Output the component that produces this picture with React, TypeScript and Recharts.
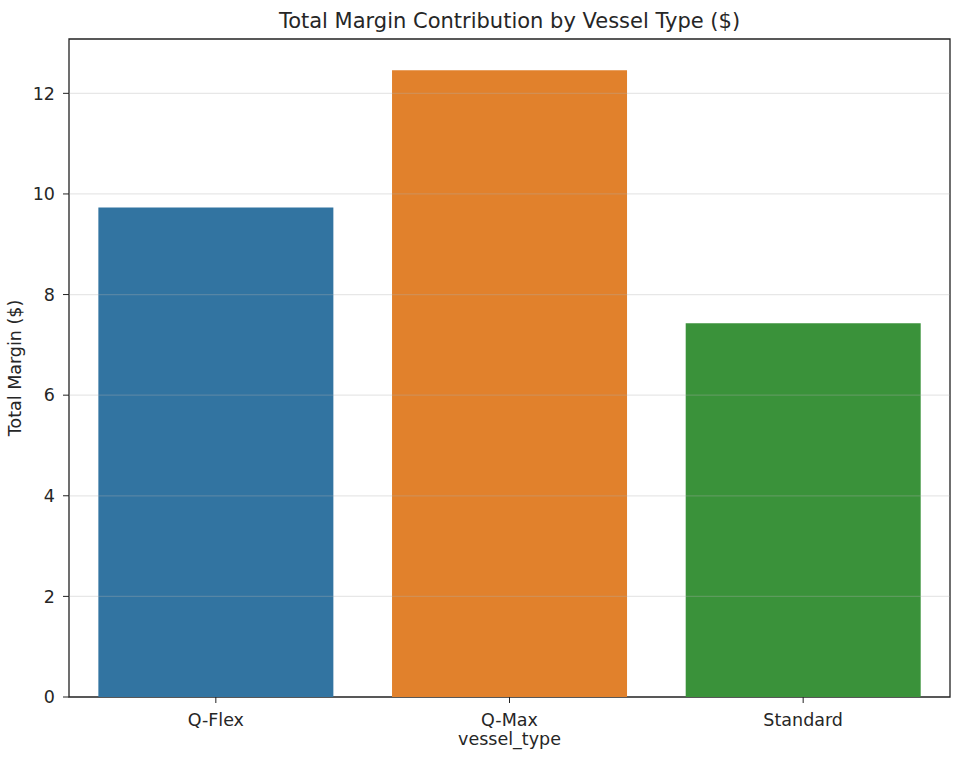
import { BarChart, Bar, XAxis, YAxis, Cell, ReferenceLine, ReferenceArea, Label } from 'recharts'

const vesselTypes = ['Q-Flex', 'Q-Max', 'Standard']
const totalMargin = [9.73, 12.46, 7.43]
const barColors = ['#3274a1', '#e1812c', '#3a923a']
const yTicks = [0, 2, 4, 6, 8, 10, 12]
const yMax = 13.08

const data = vesselTypes.map((t, i) => ({ type: t, margin: totalMargin[i] }))

const font = 'DejaVu Sans, sans-serif'
const ink = '#262626'
const spine = '#222222'

export default function App() {
  return (
    <div style={{ position: 'absolute', left: 0, top: 0, width: 978, height: 774, background: '#fff' }}>
      <BarChart width={978} height={774} data={data} margin={{ top: 39, right: 28, bottom: 0, left: 0 }} barCategoryGap="10%">
        <XAxis
          dataKey="type"
          height={77}
          tickSize={6}
          tickMargin={11}
          axisLine={false}
          tickLine={{ stroke: spine }}
          tick={{ fontSize: 17.5, fill: ink, fontFamily: font }}
          interval={0}
        >
          <Label
            content={() => (
              <text x={509.5} y={745} textAnchor="middle" fontSize={17.5} fill={ink} fontFamily={font}>vessel_type</text>
            )}
          />
        </XAxis>
        <YAxis
          width={69}
          type="number"
          domain={[0, yMax]}
          ticks={yTicks}
          tickSize={6}
          tickMargin={8}
          axisLine={false}
          tickLine={{ stroke: spine }}
          tick={{ fontSize: 17.5, fill: ink, fontFamily: font }}
        >
          <Label
            content={() => (
              <text x={21} y={368} transform="rotate(-90 21 368)" textAnchor="middle" fontSize={17.5} fill={ink} fontFamily={font}>
                Total Margin ($)
              </text>
            )}
          />
          <Label
            content={() => (
              <text x={509.5} y={28} textAnchor="middle" fontSize={21} fill={ink} fontFamily={font}>
                Total Margin Contribution by Vessel Type ($)
              </text>
            )}
          />
        </YAxis>
        <Bar dataKey="margin" isAnimationActive={false}>
          {data.map((d, i) => (
            <Cell key={d.type} fill={barColors[i]} />
          ))}
        </Bar>
        {yTicks.filter(t => t > 0).map(t => (
          <ReferenceLine key={t} y={t} stroke="#b0b0b0" strokeOpacity={0.3} strokeWidth={1.2} />
        ))}
        <ReferenceArea y1={0} y2={yMax} fill="none" fillOpacity={0} stroke={spine} strokeWidth={1.3} strokeOpacity={1} />
      </BarChart>
    </div>
  )
}
